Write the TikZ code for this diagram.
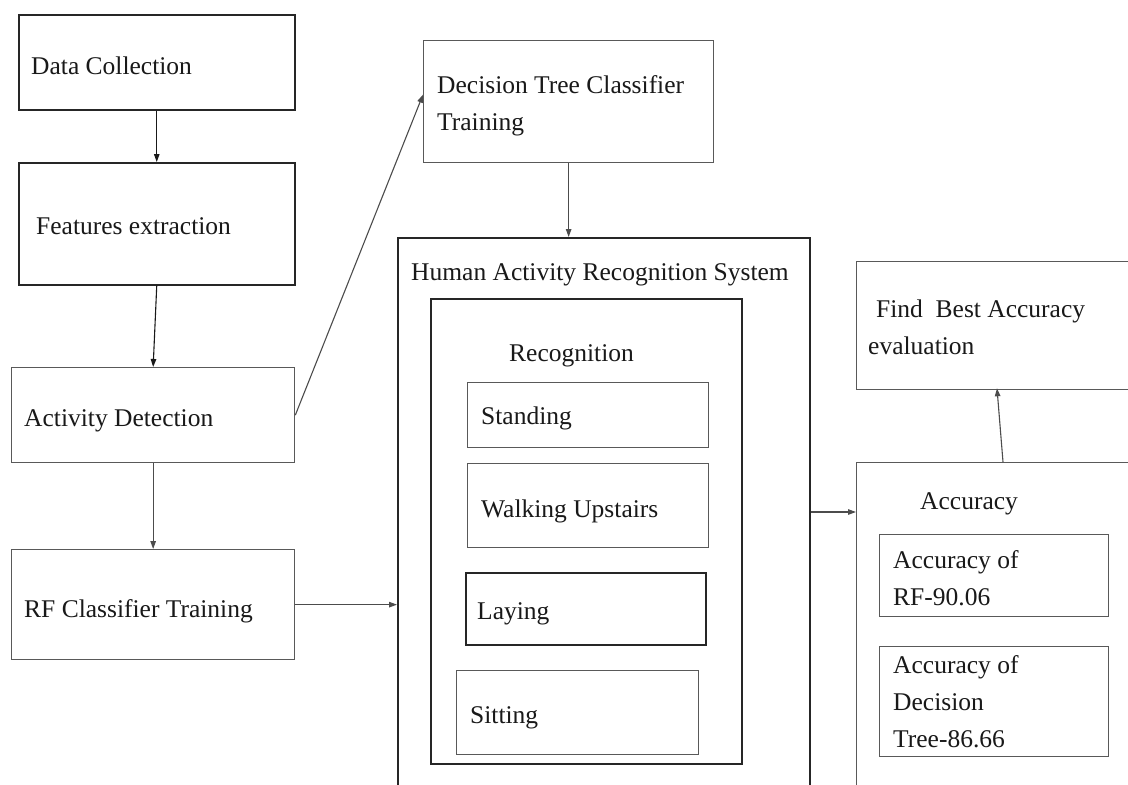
\documentclass[tikz,border=0pt]{standalone}
\usepackage{fontspec}
\setmainfont{Liberation Serif}
\usetikzlibrary{arrows.meta}
\begin{document}
\begin{tikzpicture}[x=1pt,y=-1pt,
  box/.style={draw=black!85,line width=1.5pt,inner sep=0pt,anchor=north west},
  gbox/.style={draw=black!65,line width=1.3pt,inner sep=0pt,anchor=north west},
  txt/.style={anchor=base west,inner sep=0pt,text=black!90,font=\fontsize{25.5}{37}\selectfont},
  arr/.style={draw=black!70,line width=1.1pt,-{Triangle[length=8pt,width=5.5pt]}},
  con/.style={draw=black!70,line width=1.1pt}]
\useasboundingbox (0,0) rectangle (1128,785);
\fill[white] (0,0) rectangle (1128,785);
\clip (0,0) rectangle (1128,785);
% left column
\node[box,minimum width=276pt,minimum height=95pt] (dc) at (18,14) {};
\node[txt] (tdc) at (31,74) {Data Collection};
\node[box,minimum width=276pt,minimum height=122pt] (fe) at (18,162) {};
\node[txt] (tfe) at (36,234) {Features extraction};
\node[gbox,minimum width=283pt,minimum height=95pt] (ad) at (11,367) {};
\node[txt] (tad) at (24,426) {Activity Detection};
\node[gbox,minimum width=283pt,minimum height=110pt] (rf) at (11,549) {};
\node[txt] (trf) at (24,617) {RF Classifier Training};
% decision tree
\node[gbox,minimum width=290pt,minimum height=122pt] (dt) at (423,40) {};
\node[txt,align=left,anchor=north west] (tdt) at (437,75) {Decision Tree Classifier\\Training};
% HAR system
\node[box,minimum width=412pt,minimum height=563pt] (har) at (397,237) {};
\node[txt] (thar) at (411,280) {Human Activity Recognition System};
\node[box,minimum width=311pt,minimum height=465pt] (rec) at (430,298) {};
\node[txt] (trec) at (509,361) {Recognition};
\node[gbox,minimum width=241pt,minimum height=65pt] (st) at (467,382) {};
\node[txt] (tst) at (481,424) {Standing};
\node[gbox,minimum width=241pt,minimum height=84pt] (wu) at (467,463) {};
\node[txt] (twu) at (481,517) {Walking Upstairs};
\node[box,minimum width=240pt,minimum height=72pt] (la) at (465,572) {};
\node[txt] (tla) at (477,619) {Laying};
\node[gbox,minimum width=242pt,minimum height=84pt] (si) at (456,670) {};
\node[txt] (tsi) at (470,723) {Sitting};
% right column
\node[gbox,minimum width=290pt,minimum height=128pt] (fb) at (856,261) {};
\node[txt,align=left,anchor=north west] (tfb) at (868,300) {\hspace{8pt}Find\ \ Best Accuracy\\evaluation};
\node[gbox,minimum width=290pt,minimum height=340pt] (acc) at (856,462) {};
\node[txt] (tacc) at (920,509) {Accuracy};
\node[gbox,minimum width=229pt,minimum height=82pt] (arf) at (879,534) {};
\node[txt,align=left,anchor=north west] (tarf) at (893,550) {Accuracy of\\RF-90.06};
\node[gbox,minimum width=229pt,minimum height=110pt] (adt) at (879,646) {};
\node[txt,align=left,anchor=north west] (tadt) at (893,655) {Accuracy of\\Decision\\Tree-86.66};
% connectors
\draw[arr,draw=black!90] (dc.south) -- (fe.north);
\draw[arr,draw=black!90] (fe.south) -- (ad.north);
\draw[arr] (ad.south) -- (rf.north);
\draw[arr] (ad.east) -- ([yshift=7pt]dt.west);
\draw[arr] (dt.south) -- (dt.south |- har.north);
\draw[arr] (rf.east) -- (rf.east -| har.west);
\draw[arr] (har.east |- 0,512) -- (acc.west |- 0,512);
\draw[arr] ([xshift=147pt]acc.north west) -- ([xshift=141pt,yshift=2pt]fb.south west);
\end{tikzpicture}
\end{document}
